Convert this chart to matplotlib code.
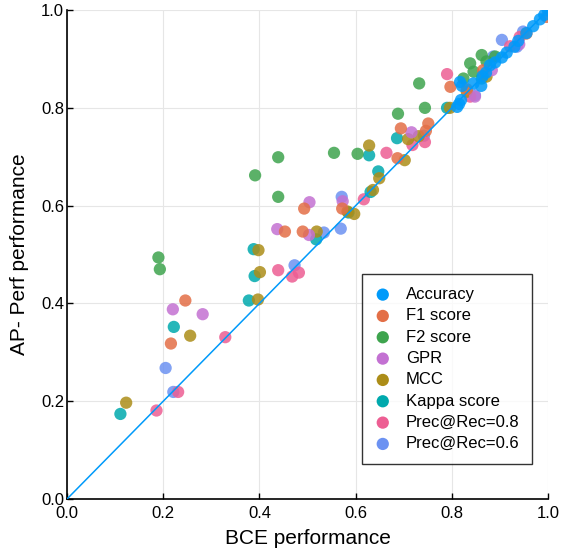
"""AP-Perf vs BCE performance scatter, one colour per metric, with y = x reference line."""

import matplotlib

matplotlib.use("Agg")
import matplotlib.pyplot as plt

plt.rcParams["font.family"] = ["Liberation Sans", "DejaVu Sans"]

labels = ["Accuracy", "F1 score", "F2 score", "GPR", "MCC", "Kappa score",
          "Prec@Rec=0.8", "Prec@Rec=0.6"]
colors = ["#009AFA", "#E36F47", "#3EA44E", "#C371D2", "#AC8D18", "#00A9AD",
          "#ED5E93", "#6C92F2"]

acc_x = [0.811, 0.815, 0.819, 0.817, 0.821, 0.845, 0.861, 0.864, 0.871, 0.879,
         0.890, 0.904, 0.914, 0.930, 0.938, 0.955, 0.969, 0.983, 0.992, 1.0]
acc_y = [0.802, 0.808, 0.816, 0.853, 0.845, 0.850, 0.845, 0.865, 0.872, 0.887,
         0.893, 0.903, 0.913, 0.925, 0.937, 0.953, 0.967, 0.981, 0.990, 0.999]

f1_x = [0.246, 0.216, 0.453, 0.490, 0.493, 0.572, 0.694, 0.751, 0.746, 0.687,
        0.797, 0.865, 0.831, 0.955, 0.997]
f1_y = [0.406, 0.318, 0.547, 0.547, 0.594, 0.594, 0.758, 0.768, 0.753, 0.697,
        0.843, 0.877, 0.838, 0.952, 0.986]

f2_x = [0.190, 0.193, 0.391, 0.439, 0.439, 0.555, 0.604, 0.688, 0.732, 0.744,
        0.838, 0.845, 0.862, 0.872, 0.890, 0.824]
f2_y = [0.494, 0.470, 0.662, 0.699, 0.618, 0.708, 0.706, 0.788, 0.850, 0.800,
        0.891, 0.874, 0.908, 0.895, 0.905, 0.860]

gpr_x = [0.220, 0.282, 0.437, 0.503, 0.504, 0.573, 0.716, 0.883, 0.848, 0.940]
gpr_y = [0.388, 0.378, 0.552, 0.540, 0.607, 0.609, 0.750, 0.877, 0.823, 0.930]

mcc_x = [0.123, 0.256, 0.398, 0.401, 0.397, 0.519, 0.583, 0.597, 0.628, 0.649,
         0.636, 0.702, 0.709, 0.731, 0.796, 0.831, 0.872]
mcc_y = [0.197, 0.334, 0.509, 0.464, 0.408, 0.547, 0.588, 0.583, 0.723, 0.656,
         0.632, 0.693, 0.736, 0.742, 0.800, 0.833, 0.864]

kappa_x = [0.111, 0.222, 0.388, 0.390, 0.378, 0.518, 0.585, 0.628, 0.647, 0.631,
           0.686, 0.790, 0.862]
kappa_y = [0.174, 0.352, 0.511, 0.456, 0.406, 0.531, 0.586, 0.703, 0.670, 0.628,
           0.738, 0.800, 0.860]

p08_x = [0.186, 0.231, 0.329, 0.439, 0.468, 0.482, 0.617, 0.664, 0.718, 0.744,
         0.790, 0.838, 0.921, 0.941]
p08_y = [0.181, 0.219, 0.331, 0.468, 0.455, 0.463, 0.613, 0.708, 0.724, 0.730,
         0.869, 0.823, 0.926, 0.945]

p06_x = [0.205, 0.221, 0.473, 0.534, 0.569, 0.571, 0.742, 0.848, 0.886, 0.904,
         0.935, 0.948]
p06_y = [0.268, 0.219, 0.478, 0.545, 0.553, 0.618, 0.743, 0.826, 0.905, 0.939,
         0.925, 0.956]

series = [(acc_x, acc_y), (f1_x, f1_y), (f2_x, f2_y), (gpr_x, gpr_y),
          (mcc_x, mcc_y), (kappa_x, kappa_y), (p08_x, p08_y), (p06_x, p06_y)]

fig = plt.figure(figsize=(5.64, 5.5), dpi=100)
ax = fig.add_axes([0.1188, 0.0927, 0.853, 0.889])

# draw later series first so Accuracy sits on top, as in the original
for (xs, ys), lab, col, z in zip(series, labels, colors, range(8)):
    ax.scatter(xs, ys, s=78, color=col, alpha=0.85, edgecolors="none",
               label=lab, zorder=10 - z)

ax.plot([0, 1], [0, 1], color="#009AFA", lw=1.1, zorder=20)

ax.set_xlim(0, 1)
ax.set_ylim(0, 1)
ticks = [0.0, 0.2, 0.4, 0.6, 0.8, 1.0]
ax.set_xticks(ticks)
ax.set_yticks(ticks)
ax.set_xticklabels([f"{t:.1f}" for t in ticks])
ax.set_yticklabels([f"{t:.1f}" for t in ticks])
ax.tick_params(direction="in", length=4, width=1, labelsize=12, pad=2)
ax.tick_params(axis="x", pad=5)
ax.grid(True, color="#e6e6e6", lw=0.8)
ax.set_axisbelow(True)
for side in ("top", "right"):
    ax.spines[side].set_visible(False)
for side in ("left", "bottom"):
    ax.spines[side].set_linewidth(1.2)

ax.set_xlabel("BCE performance", fontsize=15, labelpad=6)
ax.set_ylabel("AP- Perf performance", fontsize=15, labelpad=9)

leg = ax.legend(loc="lower right", bbox_to_anchor=(0.967, 0.072), fontsize=12,
                frameon=True, fancybox=False, edgecolor="black",
                handlelength=1.0, handletextpad=0.9, borderpad=0.75,
                labelspacing=0.38, borderaxespad=0, scatterpoints=1)
leg.get_frame().set_linewidth(1.0)
for h in leg.legend_handles:
    h.set_alpha(1)

fig.savefig("out.png")
